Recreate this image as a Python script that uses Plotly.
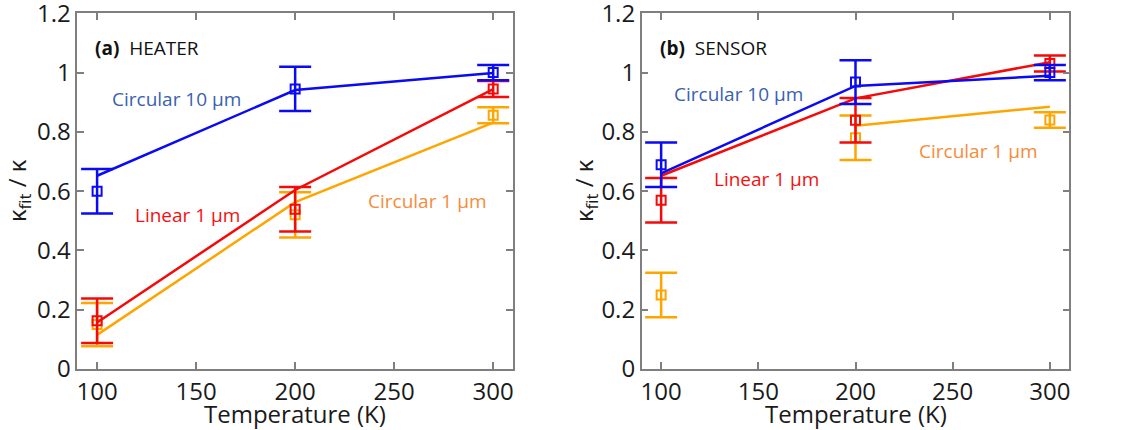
import plotly.graph_objects as go

T = [100, 200, 300]

# Panel (a) HEATER
a_blue_y = [0.60, 0.945, 1.0]
a_blue_err = [0.075, 0.075, 0.026]
a_blue_fit = [0.652, 0.941, 0.999]
a_red_y = [0.163, 0.539, 0.945]
a_red_err = [0.075, 0.075, 0.027]
a_red_fit = [0.157, 0.604, 0.944]
a_orange_y = [0.150, 0.520, 0.856]
a_orange_err = [0.073, 0.076, 0.027]
a_orange_fit = [0.115, 0.563, 0.831]

# Panel (b) SENSOR
b_blue_y = [0.689, 0.968, 1.0]
b_blue_err = [0.075, 0.074, 0.026]
b_blue_fit = [0.660, 0.955, 0.989]
b_red_y = [0.569, 0.839, 1.031]
b_red_err = [0.075, 0.075, 0.027]
b_red_fit = [0.652, 0.913, 1.035]
b_orange_y = [0.250, 0.780, 0.840]
b_orange_err = [0.075, 0.075, 0.026]
b_orange_fit = [None, 0.821, 0.885]

x_ticks = [100, 150, 200, 250, 300]
y_ticks = [0, 0.2, 0.4, 0.6, 0.8, 1.0, 1.2]
y_tick_labels = ["0", "0.2", "0.4", "0.6", "0.8", "1", "1.2"]

BLUE = "#0a0af5"
RED = "#f50a0a"
ORANGE = "#ffa500"
FONT = "Open Sans"

fig = go.Figure()

def add_series(xa, ya, y, err, fit, color):
    fig.add_trace(go.Scatter(
        x=T, y=y, xaxis=xa, yaxis=ya, mode="markers",
        marker=dict(symbol="square-open", size=9, color=color, line=dict(width=2, color=color)),
        error_y=dict(type="data", array=err, visible=True, color=color, thickness=2.5, width=16),
        showlegend=False, cliponaxis=False))
    fig.add_trace(go.Scatter(
        x=T, y=fit, xaxis=xa, yaxis=ya, mode="lines",
        line=dict(color=color, width=2.5), showlegend=False, connectgaps=False))

add_series("x", "y", a_orange_y, a_orange_err, a_orange_fit, ORANGE)
add_series("x", "y", a_red_y, a_red_err, a_red_fit, RED)
add_series("x", "y", a_blue_y, a_blue_err, a_blue_fit, BLUE)
add_series("x2", "y2", b_orange_y, b_orange_err, b_orange_fit, ORANGE)
add_series("x2", "y2", b_red_y, b_red_err, b_red_fit, RED)
add_series("x2", "y2", b_blue_y, b_blue_err, b_blue_fit, BLUE)

W, H = 1131, 430
ydom = [1 - 369 / H, 1 - 13.3 / H]
xdom_a = [77.3 / W, 513 / W]
xdom_b = [641.7 / W, 1069.3 / W]

axis_common = dict(
    showgrid=False, zeroline=False, showline=True, linecolor="#7f7f7f", linewidth=1.5,
    mirror="ticks", ticks="inside", ticklen=7, tickwidth=1.5, tickcolor="#7f7f7f",
    tickfont=dict(family=FONT, size=24, color="#1a1a1a"), automargin=False,
    ticklabeloverflow="allow",
)
xaxis_common = dict(axis_common, range=[90, 310], tickmode="array", tickvals=x_ticks)
yaxis_common = dict(axis_common, range=[0, 1.2], tickmode="array", tickvals=y_ticks,
                    ticktext=y_tick_labels)

fig.update_layout(
    width=W, height=H, autosize=False,
    margin=dict(l=0, r=0, t=0, b=0, autoexpand=False),
    paper_bgcolor="white", plot_bgcolor="white",
    font=dict(family=FONT),
    xaxis=dict(xaxis_common, domain=xdom_a, anchor="y"),
    yaxis=dict(yaxis_common, domain=ydom, anchor="x"),
    xaxis2=dict(xaxis_common, domain=xdom_b, anchor="y2"),
    yaxis2=dict(yaxis_common, domain=ydom, anchor="x2"),
)

def px_ann(x, y, text, color, size=19, xanchor="left", angle=0):
    fig.add_annotation(x=x / W, y=1 - y / H, xref="paper", yref="paper",
                       text=text, showarrow=False, xanchor=xanchor, yanchor="middle",
                       textangle=angle, font=dict(family=FONT, size=size, color=color))

TXT_BLUE = "#3a5fb0"
TXT_RED = "#f51010"
TXT_ORANGE = "#f58c3a"

# Panel labels
px_ann(93, 48, "<b>(a)</b>  HEATER", "#111111")
px_ann(658, 48, "<b>(b)</b>  SENSOR", "#111111")

# Series labels panel a
px_ann(110, 99, "Circular 10 μm", TXT_BLUE)
px_ann(133, 215, "Linear 1 μm", TXT_RED)
px_ann(366, 201, "Circular 1 μm", TXT_ORANGE)
# panel b
px_ann(672, 94, "Circular 10 μm", TXT_BLUE)
px_ann(712, 179, "Linear 1 μm", TXT_RED)
px_ann(917, 151, "Circular 1 μm", TXT_ORANGE)

# Axis titles
px_ann(295, 413, "Temperature (K)", "#1a1a1a", size=24, xanchor="center")
px_ann(855.5, 413, "Temperature (K)", "#1a1a1a", size=24, xanchor="center")
px_ann(18, 191, "κ<sub>fit</sub> / κ", "#1a1a1a", size=24, xanchor="center", angle=-90)
px_ann(585, 191, "κ<sub>fit</sub> / κ", "#1a1a1a", size=24, xanchor="center", angle=-90)

fig.write_html("out.html")
